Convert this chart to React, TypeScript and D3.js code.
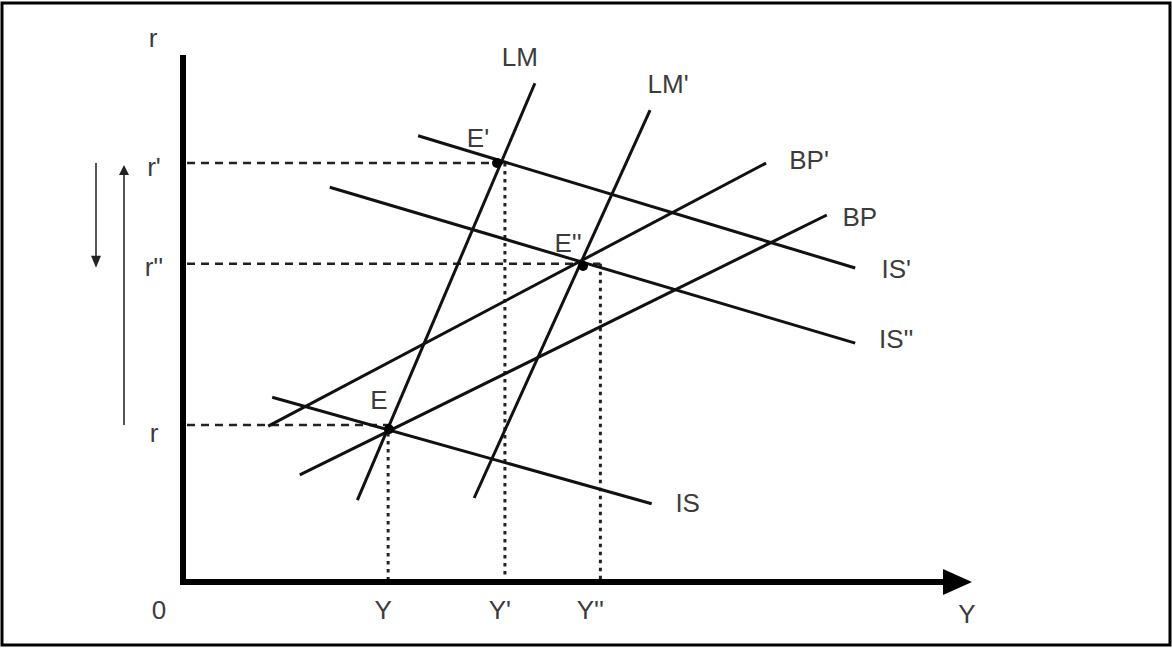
import React from 'react';
import * as d3 from 'd3';

// model units: Y (income) 0..10, r (interest) 0..10
const curveNames = ['LM', "LM'", 'IS', "IS'", "IS''", 'BP', "BP'"];
const curveStart = [[2.21, 1.56], [3.69, 1.60], [1.13, 3.52], [2.98, 8.50], [1.86, 7.52], [1.48, 2.04], [1.08, 2.97]];
const curveEnd = [[4.46, 9.50], [5.92, 8.99], [5.94, 1.49], [8.52, 5.98], [8.52, 4.55], [8.16, 6.99], [7.39, 7.98]];

const eqNames = ['E', "E'", "E''"];
const eqY = [2.61, 3.98, 5.07];
const eqR = [2.91, 7.98, 6.02];

const rTickLabels = ['r', "r'", "r''"];
const rTicks = [2.99, 7.98, 6.06];
const yTickLabels = ['Y', "Y'", "Y''"];
const yTicks = [2.60, 4.08, 5.29];

const W = 1172;
const H = 648;

export default function App() {
  const x = d3.scaleLinear().domain([0, 10]).range([183, 972]);
  const y = d3.scaleLinear().domain([0, 10]).range([582, 57]);
  const line = d3.line<number[]>().x(d => x(d[0])).y(d => y(d[1]));

  const font = '"Liberation Sans", Arial, sans-serif';
  const txt = '#3c3c3c';
  const fs = 26;

  // label offsets, pixels from the labelled end of each curve
  const labelOff = [[-15, -26], [18, -26], [36, -1], [41, 1], [41, -4], [33, 2], [43, -3]];
  const eqOff = [[-10, -29], [-19, -25], [-15, -23]];
  const rOff = [8, 4, 3];
  const yOff = [-5, -5, -10];

  const T = (props: any) => (
    <text fontFamily={font} fontSize={fs} fill={txt} textAnchor="middle" dominantBaseline="central" {...props} />
  );

  const x0 = x(0);
  const y0 = y(0);
  const tip = x(10);

  return (
    <div style={{ position: 'absolute', left: 0, top: 0 }}>
      <svg width={W} height={H} style={{ display: 'block', background: '#fff' }}>
        <rect x={2} y={3} width={W - 4} height={H - 6} fill="#fff" stroke="#000" strokeWidth={3} />

        {/* guide lines */}
        {rTicks.map((t, i) => {
          const xe = i === 0 ? x(eqY[0]) : x(yTicks[i]);
          return <line key={'rh' + i} x1={x0 + 4} x2={xe} y1={y(t)} y2={y(t)}
            stroke="#222" strokeWidth={2.5} strokeDasharray="8 6" />;
        })}
        {yTicks.map((t, i) => (
          <line key={'yv' + i} x1={x(t)} x2={x(t)} y1={y(rTicks[i])} y2={y0}
            stroke="#222" strokeWidth={3} strokeDasharray="3.5 4.5" />
        ))}

        {/* curves */}
        {curveNames.map((n, i) => (
          <path key={n} d={line([curveStart[i], curveEnd[i]]) as string} stroke="#111" strokeWidth={3} fill="none" />
        ))}
        {curveNames.map((n, i) => (
          <T key={'l' + n} x={x(curveEnd[i][0]) + labelOff[i][0]} y={y(curveEnd[i][1]) + labelOff[i][1]}>{n}</T>
        ))}

        {/* equilibria */}
        {eqNames.map((n, i) => (
          <g key={n}>
            <circle cx={x(eqY[i])} cy={y(eqR[i])} r={5} fill="#000" />
            <T x={x(eqY[i]) + eqOff[i][0]} y={y(eqR[i]) + eqOff[i][1]}>{n}</T>
          </g>
        ))}

        {/* axes */}
        <line x1={x0} x2={x0} y1={y(10) - 2} y2={y0 + 3} stroke="#000" strokeWidth={6} />
        <line x1={x0 - 3} x2={tip - 26} y1={y0} y2={y0} stroke="#000" strokeWidth={6} />
        <path d={`M${tip},${y0} L${tip - 29},${y0 - 13} L${tip - 29},${y0 + 13} Z`} fill="#000" />

        <T x={153} y={38}>r</T>
        <T x={967} y={614}>Y</T>
        <T x={159} y={610}>0</T>

        {rTicks.map((t, i) => (
          <T key={'rl' + i} x={154} y={y(t) + rOff[i]}>{rTickLabels[i]}</T>
        ))}
        {yTicks.map((t, i) => (
          <T key={'yl' + i} x={x(t) + yOff[i]} y={610}>{yTickLabels[i]}</T>
        ))}

        {/* movement arrows */}
        <line x1={96} x2={96} y1={y(rTicks[1])} y2={y(rTicks[2]) - 6} stroke="#555" strokeWidth={2} />
        <path d={`M96,${y(rTicks[2]) + 4} L91,${y(rTicks[2]) - 8} L101,${y(rTicks[2]) - 8} Z`} fill="#222" />
        <line x1={124} x2={124} y1={y(rTicks[0])} y2={y(rTicks[1]) + 8} stroke="#555" strokeWidth={2} />
        <path d={`M124,${y(rTicks[1]) + 2} L119,${y(rTicks[1]) + 12} L129,${y(rTicks[1]) + 12} Z`} fill="#222" />
      </svg>
    </div>
  );
}
